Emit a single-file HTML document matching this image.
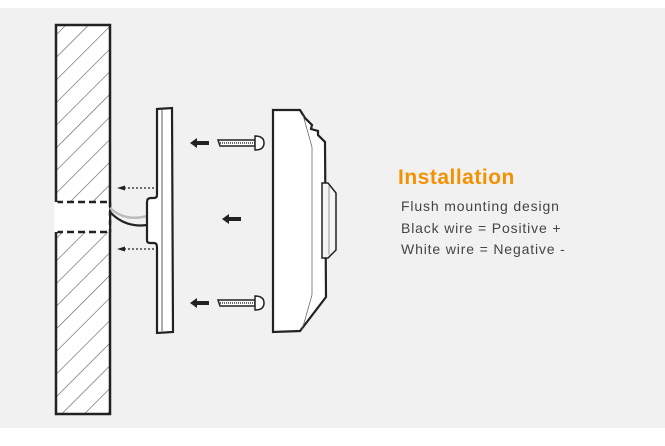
<!DOCTYPE html>
<html><head><style>
html,body{margin:0;padding:0;background:#fff}
.wrap{position:relative;width:665px;height:446px;overflow:hidden;background:#fff}
.t{position:absolute;font-family:"Liberation Sans",sans-serif}
</style></head><body><div class="wrap">
<svg width="665" height="446" style="position:absolute;left:0;top:0">
<defs>
<pattern id="h" width="16" height="16" patternUnits="userSpaceOnUse" patternTransform="rotate(45)">
<rect width="16" height="16" fill="#fff"/><line x1="0" y1="0" x2="0" y2="16" stroke="#666" stroke-width="1.3"/>
</pattern>
</defs>
<rect x="0" y="8" width="665" height="420" fill="#f1f1f1"/>
<rect x="56" y="25" width="54" height="389" fill="url(#h)" stroke="#222" stroke-width="2.5"/>
<rect x="57" y="202" width="52" height="30" fill="#fff"/>
<line x1="56" y1="202" x2="110" y2="202" stroke="#222" stroke-width="2.5" stroke-dasharray="7,4"/>
<line x1="56" y1="232" x2="110" y2="232" stroke="#222" stroke-width="2.5" stroke-dasharray="7,4"/>
<line x1="56" y1="202" x2="56" y2="232" stroke="#fff" stroke-width="3"/>
<line x1="110" y1="202" x2="110" y2="232" stroke="#222" stroke-width="2.5" stroke-dasharray="5,4"/>
<path d="M110 208 Q125 222 147 216" fill="none" stroke="#bbb" stroke-width="2.5"/>
<path d="M110 212 Q125 228 147 225" fill="none" stroke="#222" stroke-width="2.2"/>
<line x1="124" y1="188" x2="155" y2="188" stroke="#222" stroke-width="1.2" stroke-dasharray="2,2"/>
<path d="M117 188 L125 185.5 L125 190.5Z" fill="#222"/>
<line x1="124" y1="249" x2="155" y2="249" stroke="#222" stroke-width="1.2" stroke-dasharray="2,2"/>
<path d="M117 249 L125 246.5 L125 251.5Z" fill="#222"/>
<path d="M157 109 L172 108 L173 332 L157 333 L157 247 Q157 243 154 243 L150 243 Q147 243 147 240 L147 202 Q147 198 151 198 L154 198 Q157 198 157 195 Z" fill="#fff" stroke="#222" stroke-width="2.2"/>
<line x1="162" y1="110" x2="162" y2="331" stroke="#333" stroke-width="0.8"/>
<path d="M273 110 L300 110 L305 118 L312 125 L311 129 L318 131 L318 135 L325 142 L326 297 L300 331 L273 332 Z" fill="#fff" stroke="#222" stroke-width="2.2"/>
<path d="M303 115 L312 147 L312 295 L302 330" fill="none" stroke="#555" stroke-width="0.7"/>
<path d="M322 183 L328 183 L336 193 L336 250 L328 258 L322 258 Z" fill="#f4f4f4" stroke="#222" stroke-width="1.5"/>
<line x1="329" y1="186" x2="329" y2="255" stroke="#999" stroke-width="1"/>
<g id="s">
<path d="M218 140 L255 140 L255 146 L220 146 Z" fill="#fff" stroke="#222" stroke-width="1.5"/>
<line x1="220" y1="143" x2="255" y2="143" stroke="#666" stroke-width="2" stroke-dasharray="1,1"/>
<path d="M255 136 Q264 136 264 143 Q264 150 255 150 Z" fill="#fff" stroke="#222" stroke-width="1.5"/>
<path d="M190 143 L197 138 L197 141 L209 141 L209 145 L197 145 L197 148Z" fill="#222"/>
</g>
<use href="#s" y="160"/>
<path d="M222 219 L229 214 L229 217 L241 217 L241 221 L229 221 L229 224Z" fill="#222"/>
</svg>
<div class="t" style="left:398px;top:166px;font-size:21px;font-weight:bold;color:#f39200;letter-spacing:0.5px">Installation</div>
<div class="t" style="left:401px;top:196px;font-size:14px;line-height:21.5px;color:#444;letter-spacing:0.85px">Flush mounting design<br>Black wire = Positive +<br>White wire = Negative -</div>
</div></body></html>
